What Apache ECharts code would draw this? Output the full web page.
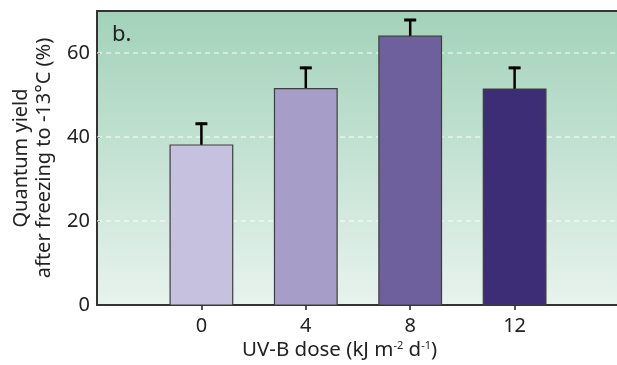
<!DOCTYPE html>
<html><head><meta charset="utf-8">
<script src="https://cdn.jsdelivr.net/npm/echarts@6/dist/echarts.min.js"></script>
<style>html,body{margin:0;padding:0;background:#fff}#c{width:617px;height:365px}</style>
</head><body><div id="c"></div>
<script>
const doses = [0, 4, 8, 12];
const means = [38.1, 51.5, 64.0, 51.4];
const errors = [5.3, 5.2, 4.1, 5.3];
const barColors = ['#c6c1df', '#a69ec9', '#6e609d', '#3d2d76'];
const yTicks = [0, 20, 40, 60];
const gridValues = [20, 40, 60];

const FONT = '"Noto Sans", "Open Sans", sans-serif';
const chart = echarts.init(document.getElementById('c'));
const barHalf = 1.2;

chart.setOption({
  animation: false,
  grid: {
    left: 97, right: -2, top: 11, bottom: 60, show: true, borderWidth: 0,
    outerBoundsMode: 'none', containLabel: false,
    backgroundColor: new echarts.graphic.LinearGradient(0, 0, 0, 1, [
      { offset: 0, color: '#a2d2b9' },
      { offset: 1, color: '#e8f3ee' }
    ])
  },
  xAxis: [{
    type: 'value', min: -4, max: 16, interval: 4,
    axisLine: { show: true, onZero: false, lineStyle: { color: '#333', width: 2 } },
    axisTick: { show: true, length: 5, lineStyle: { color: '#222', width: 1.5 }, customValues: doses },
    axisLabel: { color: '#222', fontSize: 20, fontFamily: FONT, margin: 11, customValues: doses },
    splitLine: { show: false }
  }, {
    type: 'value', position: 'top', min: -4, max: 16,
    axisLine: { show: true, onZero: false, lineStyle: { color: '#333', width: 2 } },
    axisTick: { show: false }, axisLabel: { show: false }, splitLine: { show: false }
  }],
  yAxis: {
    type: 'value', min: 0, max: 70, interval: 10,
    name: 'Quantum yield\nafter freezing to -13°C (%)',
    nameLocation: 'middle', nameGap: 37, nameRotate: 90,
    nameTextStyle: { color: '#222', fontSize: 20, fontFamily: FONT, lineHeight: 23 },
    axisLine: { show: true, onZero: false, lineStyle: { color: '#333', width: 2 } },
    axisTick: { show: true, inside: true, length: 3, customValues: yTicks, lineStyle: { color: '#333' } },
    axisLabel: { color: '#222', fontSize: 20, fontFamily: FONT, margin: 7, customValues: yTicks },
    splitLine: { show: false }
  },
  series: [{
    type: 'custom',
    data: gridValues.map(v => [0, v]),
    renderItem: function (params, api) {
      const y = api.value(1);
      const p1 = api.coord([-4, y]);
      const p2 = api.coord([16, y]);
      return { type: 'line', shape: { x1: p1[0], y1: p1[1], x2: p2[0], y2: p2[1] },
        style: { stroke: '#ffffff', lineWidth: 1, lineDash: [5, 4] } };
    },
    z: 1, silent: true
  }, {
    type: 'custom',
    data: doses.map((d, i) => [d, means[i], errors[i], i]),
    renderItem: function (params, api) {
      const x = api.value(0), m = api.value(1), e = api.value(2), idx = api.value(3);
      const tl = api.coord([x - barHalf, m]);
      const br = api.coord([x + barHalf, 0]);
      const top = api.coord([x, m + e]);
      const base = api.coord([x, m]);
      return { type: 'group', children: [
        { type: 'line', shape: { x1: base[0], y1: base[1], x2: top[0], y2: top[1] },
          style: { stroke: '#000', lineWidth: 2.5 } },
        { type: 'line', shape: { x1: top[0] - 6, y1: top[1] + 1, x2: top[0] + 6, y2: top[1] + 1 },
          style: { stroke: '#000', lineWidth: 3 } },
        { type: 'rect', shape: { x: tl[0], y: tl[1], width: br[0] - tl[0], height: br[1] - tl[1] },
          style: { fill: barColors[idx], stroke: '#3e3e3e', lineWidth: 1.2 } }
      ] };
    },
    z: 2, silent: true
  }],
  graphic: [
    { type: 'text', left: 112, top: 24, style: { text: 'b.', fontSize: 22, fontFamily: FONT, fill: '#222' } },
    { type: 'text', left: 242, top: 340, style: {
      text: 'UV-B dose (kJ m{s|-2} d{s|-1})', fontSize: 20.5, fontFamily: FONT, fill: '#222',
      rich: { s: { fontSize: 11, fontFamily: FONT, fill: '#222', verticalAlign: 'top', padding: [0, 0, 9, 0] } }
    } }
  ]
});
</script></body></html>
